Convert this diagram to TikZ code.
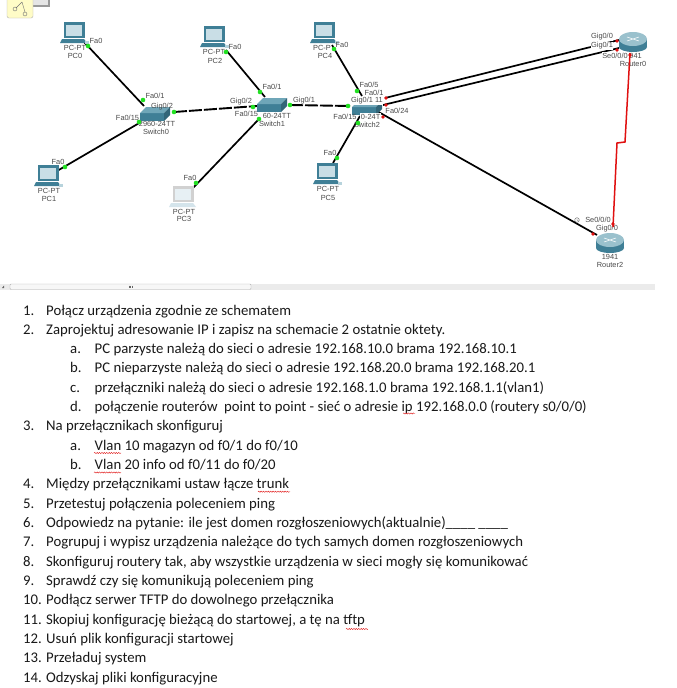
\documentclass[tikz,border=0pt]{standalone}
\usepackage{fontspec}
\setmainfont{Carlito}
\newfontfamily\labfont{Liberation Sans}
\usetikzlibrary{decorations.pathmorphing}
\definecolor{devdark}{HTML}{3F7F96}
\definecolor{devmid}{HTML}{6FA6B8}
\definecolor{devlight}{HTML}{C9DEE6}
\definecolor{labgray}{HTML}{4A4A4A}
\definecolor{portgreen}{HTML}{22E022}
\definecolor{portred}{HTML}{E01010}
\tikzset{
  lab/.style={font=\labfont\fontsize{7.4}{8}\selectfont, text=labgray, inner sep=0pt},
  labw/.style={lab, fill=white, inner xsep=0.5pt, inner ysep=1pt},
  cable/.style={draw=black, line width=1.7pt},
  trunk/.style={draw=black, line width=1.9pt, dash pattern=on 13pt off 2pt},
  serial/.style={draw=portred, line width=1.5pt},
  gdot/.style={circle, fill=portgreen, inner sep=0pt, minimum size=4.6pt},
  rdot/.style={circle, fill=portred, inner sep=0pt, minimum size=3.6pt},
  item/.style={font=\fontsize{14.75}{15}\selectfont, text=black!90, inner sep=0pt, anchor=base west},
  squig/.style={draw=portred, line width=.4pt, decorate, decoration={snake, amplitude=.6pt, segment length=2.4pt}},
  pcnode/.pic={
    \fill[devdark] (-10,-13) -- (11,-13) -- (11,3) -- (-10,3) -- cycle;
    \fill[devlight] (-8,-10) rectangle (8,1);
    \fill[devdark] (-12,4) -- (10,4) -- (13,8) -- (-14,8) -- cycle;
    \fill[devmid!50!white] (11,6) rectangle (15,9);
  },
  pcfaded/.pic={
    \fill[black!18] (-10,-13) -- (11,-13) -- (11,3) -- (-10,3) -- cycle;
    \fill[devlight!45!white] (-8,-10) rectangle (8,1);
    \fill[devlight!80!white] (-12,4) -- (10,4) -- (13,8) -- (-14,8) -- cycle;
  },
  swnode/.pic={
    \fill[devdark] (-15,-2) rectangle (9,6);
    \fill[devmid] (-15,-2) -- (-9,-8) -- (15,-8) -- (9,-2) -- cycle;
    \fill[devdark!80!black] (9,-2) -- (15,-8) -- (15,0) -- (9,6) -- cycle;
  },
  rtnode/.pic={
    \fill[devdark] (-14,-3) rectangle (14,5);
    \fill[devdark] (0,5) ellipse (14 and 5);
    \fill[devmid!70!white] (0,-3) ellipse (14 and 7);
    \draw[white, line width=.5pt] (-6,-5) -- (6,-1) (-6,-1) -- (6,-5);
  }
}
\newcommand{\taskmain}[3]{\node[item] at (23,315+19.32*#1) {#2}; \node[item] at (46,315+19.32*#1) {#3};}
\newcommand{\tasksub}[3]{\node[item] at (70,315+19.32*#1) {#2}; \node[item] at (94.5,315+19.32*#1) {#3};}
\begin{document}
\begin{tikzpicture}[x=1pt,y=-1pt]
\useasboundingbox (0,0) rectangle (677,688);
\fill[white] (0,0) rectangle (677,688);

% corner icon and scrollbar
\fill[black!40] (30,-2) rectangle (50,7);
\fill[black!10] (32,-2) rectangle (48,5);
\draw[fill=yellow!22!white, draw=black!30, rounded corners=2pt] (7,-3) rectangle (33,18);
\draw[black!55, line width=.4pt] (15,9) circle (2) (25,14) circle (2) (22,2) -- (16,8) (22,2) -- (25,12);
\fill[black!8] (0,283.5) rectangle (655,289.5);
\draw[black!30, fill=black!3, rounded corners=1pt] (10,284) rectangle (251,289.5);
\draw[black!60, line width=.4pt] (129,285.5) -- (129,288) (130.5,285.5) -- (130.5,288) (132,285.5) -- (132,288);
\fill[black!60] (2,288) -- (4,285.5) -- (4,288) -- cycle;

% connector ends
\coordinate (pc0e) at (84,42);   \coordinate (sw0a) at (144,106);
\coordinate (pc1e) at (57,171);  \coordinate (sw0c) at (141,122);
\coordinate (sw0g) at (174,112); \coordinate (sw1g) at (257,106);
\coordinate (pc2e) at (226,50);  \coordinate (sw1a) at (265,97);
\coordinate (pc3e) at (193,188); \coordinate (sw1c) at (259,119);
\coordinate (sw1h) at (290,105); \coordinate (sw2g) at (350,106);
\coordinate (pc4e) at (332,45);  \coordinate (sw2a) at (362,96);
\coordinate (pc5e) at (333,163); \coordinate (sw2c) at (360,116);
\coordinate (sw2r) at (385,98);  \coordinate (rt0a) at (619,40);
\coordinate (sw2s) at (383,105); \coordinate (rt0b) at (619,48);
\coordinate (sw2t) at (375,110); \coordinate (rt2g) at (597,235);
\coordinate (rt0s) at (630,53);  \coordinate (rt2s) at (613,227);
\coordinate (kink1) at (625,142);\coordinate (kink2) at (617,143);

% cables
\draw[cable] (pc0e) -- (sw0a);
\draw[cable] (pc1e) -- (sw0c);
\draw[trunk] (sw0g) -- (sw1g);
\draw[cable] (pc2e) -- (sw1a);
\draw[cable] (pc3e) -- (sw1c);
\draw[trunk] (sw1h) -- (sw2g);
\draw[cable] (pc4e) -- (sw2a);
\draw[cable] (pc5e) -- (sw2c);
\draw[cable] (sw2r) -- (rt0a);
\draw[cable] (sw2s) -- (rt0b);
\draw[cable] (sw2t) -- (rt2g);

% devices
\pic at (74,35) {pcnode};
\pic at (48,178) {pcnode};
\pic at (214,39) {pcnode};
\pic at (183,199) {pcfaded};
\pic at (324,35) {pcnode};
\pic at (327,176) {pcnode};
\pic at (155,115) {swnode};
\pic at (272,106) {swnode};
\pic at (367,109) {swnode};
\pic at (633,42) {rtnode};
\pic at (610,243) {rtnode};

% device labels
\node[lab] (n1) at (75,48) {PC-PT};      \node[lab] (n2) at (75,56) {PC0};
\node[lab] (n3) at (49,191) {PC-PT};     \node[lab] (n4) at (49,199) {PC1};
\node[lab] (n5) at (214,52) {PC-PT};     \node[lab] (n6) at (215,61) {PC2};
\node[lab] (n7) at (184,212) {PC-PT};    \node[lab] (n8) at (184,219) {PC3};
\node[lab] (n9) at (322,48) {PC-P};      \node[lab] (n10) at (325,56) {PC4};
\node[lab] (n11) at (328,189) {PC-PT};   \node[lab] (n12) at (328,198) {PC5};
\node[lab] (n13) at (157,124) {2960-24TT}; \node[lab] (n14) at (156,132) {Switch0};
\node[lab, anchor=east] (n15) at (291,116) {60-24TT}; \node[lab] (n16) at (272,124) {Switch1};
\node[labw, anchor=east] (n17) at (381,117) {0-24T}; \node[lab] (n18) at (367,125) {Switch2};
\node[lab, anchor=east] (n19) at (642,56) {941};     \node[lab] (n20) at (633,64) {Router0};
\node[lab] (n21) at (610,257) {1941};    \node[lab] (n22) at (610,265) {Router2};

% port labels
\node[lab] at (96,41) {Fa0};
\node[lab] at (155,96) {Fa0/1};
\node[lab] at (162,107) {Gig0/2};
\node[lab] at (127.5,118) {Fa0/15};
\node[lab] at (58,162) {Fa0};
\node[lab] at (235,47) {Fa0};
\node[lab] at (272,87) {Fa0/1};
\node[lab] at (241,102) {Gig0/2};
\node[lab] at (246.5,114) {Fa0/15};
\node[lab] at (304,101) {Gig0/1};
\node[lab] at (190,178) {Fa0};
\node[lab] at (342,45) {Fa0};
\node[lab] at (369,85) {Fa0/5};
\node[lab] at (374,93) {Fa0/1};
\node[labw] at (367,101) {Gig0/1 11};
\node[lab] at (345,117) {Fa0/15};
\node[lab] at (397,111) {Fa0/24};
\node[lab] at (330,153) {Fa0};
\node[labw] at (602,37) {Gig0/0};
\node[labw] at (602,46) {Gig0/1};
\node[labw] at (615,56) {Se0/0/0};
\node[labw] at (598,220) {Se0/0/0};
\node[labw] at (607,229) {Gig0/0};
\draw[black!60, line width=.4pt, fill=white] (577,220) circle (2.3);
\draw[black!60, line width=.4pt] (577,218.5) -- (577,220) -- (578.2,220.6);

% serial link
\draw[serial] (rt0s) -- (kink1) -- (kink2) -- (rt2s);

% port dots
\foreach \p in {(88,46),(143,100),(174,112),(139,122),(65,167),(226,52),(260,92),(253,107),(290,105),(259,119),(196,183),(334,49),(357,91),(348,106),(358,123),(337,158)}
  \node[gdot] at \p {};
\foreach \p in {(386,98),(386,105),(383,117),(617,41),(617,50),(630,55),(613,224),(593,234)}
  \node[rdot] at \p {};

% task list
\taskmain{0}{1.}{Połącz urządzenia zgodnie ze schematem}
\taskmain{1}{2.}{Zaprojektuj adresowanie IP i zapisz na schemacie 2 ostatnie oktety.}
\tasksub{2}{a.}{PC parzyste należą do sieci o adresie 192.168.10.0 brama 192.168.10.1}
\tasksub{3}{b.}{PC nieparzyste należą do sieci o adresie 192.168.20.0 brama 192.168.20.1}
\tasksub{4}{c.}{przełączniki należą do sieci o adresie 192.168.1.0 brama 192.168.1.1(vlan1)}
\tasksub{5}{d.}{połączenie routerów\ \ point to point - sieć o adresie ip 192.168.0.0 (routery s0/0/0)}
\taskmain{6}{3.}{Na przełącznikach skonfiguruj}
\tasksub{7}{a.}{Vlan 10 magazyn od f0/1 do f0/10}
\tasksub{8}{b.}{Vlan 20 info od f0/11 do f0/20}
\taskmain{9}{4.}{Między przełącznikami ustaw łącze trunk}
\taskmain{10}{5.}{Przetestuj połączenia poleceniem ping}
\taskmain{11}{6.}{Odpowiedz na pytanie: ile jest domen rozgłoszeniowych(aktualnie)\_\_\_\_ \_\_\_\_}
\taskmain{12}{7.}{Pogrupuj i wypisz urządzenia należące do tych samych domen rozgłoszeniowych}
\taskmain{13}{8.}{Skonfiguruj routery tak, aby wszystkie urządzenia w sieci mogły się komunikować}
\taskmain{14}{9.}{Sprawdź czy się komunikują poleceniem ping}
\taskmain{15}{10.}{Podłącz serwer TFTP do dowolnego przełącznika}
\taskmain{16}{11.}{Skopiuj konfigurację bieżącą do startowej, a tę na tftp}
\taskmain{17}{12.}{Usuń plik konfiguracji startowej}
\taskmain{18}{13.}{Przeładuj system}
\taskmain{19}{14.}{Odzyskaj pliki konfiguracyjne}

% spelling marks
\coordinate (s1a) at (403,413.5); \coordinate (s1b) at (415,413.5);
\coordinate (s2a) at (94,453);  \coordinate (s2b) at (121,453);
\coordinate (s3a) at (94,472.5);  \coordinate (s3b) at (121,472.5);
\coordinate (s4a) at (258,491.7); \coordinate (s4b) at (290,491.7);
\coordinate (s5a) at (346,629); \coordinate (s5b) at (368,629);
\draw[squig] (s1a) -- (s1b);
\draw[squig] (s2a) -- (s2b);
\draw[squig] (s3a) -- (s3b);
\draw[squig] (s4a) -- (s4b);
\draw[squig] (s5a) -- (s5b);
\end{tikzpicture}
\end{document}
